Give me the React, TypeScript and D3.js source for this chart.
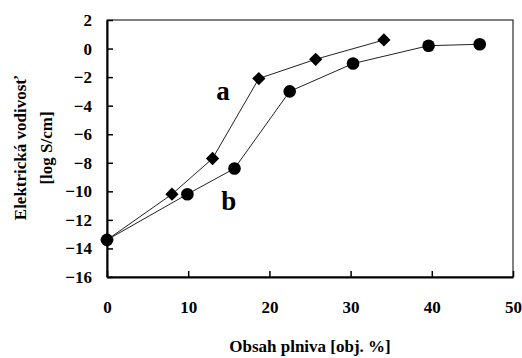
import React, { useRef, useEffect } from 'react';
import * as d3 from 'd3';

const seriesAx = [0, 8, 13, 18.7, 25.7, 34.1];
const seriesAy = [-13.4, -10.2, -7.7, -2.1, -0.75, 0.6];
const seriesBx = [0, 9.9, 15.7, 22.5, 30.3, 39.6, 45.9];
const seriesBy = [-13.4, -10.2, -8.4, -3.0, -1.05, 0.2, 0.3];
const xTicks = [0, 10, 20, 30, 40, 50];
const yTicks = [2, 0, -2, -4, -6, -8, -10, -12, -14, -16];

const App: React.FC = () => {
  const ref = useRef<SVGSVGElement | null>(null);

  useEffect(() => {
    if (!ref.current) return;
    const svg = d3.select(ref.current);
    svg.selectAll('*').remove();

    const width = 522;
    const height = 358;
    const margin = { top: 20, right: 9, bottom: 81, left: 107 };
    const font = "'Liberation Serif', 'Times New Roman', 'DejaVu Serif', serif";

    const x = d3.scaleLinear().domain([0, 50]).range([margin.left, width - margin.right]);
    const y = d3.scaleLinear().domain([-16, 2]).range([height - margin.bottom, margin.top]);

    // frame, thin on top and right
    svg.append('rect')
      .attr('x', x(0)).attr('y', y(2))
      .attr('width', x(50) - x(0)).attr('height', y(-16) - y(2))
      .attr('fill', 'none').attr('stroke', '#000').attr('stroke-width', 1);

    const xAxis = svg.append('g')
      .attr('transform', `translate(0,${y(-16)})`)
      .call(d3.axisBottom(x).tickValues(xTicks).tickSizeInner(-6).tickSizeOuter(0).tickPadding(24));
    const yAxis = svg.append('g')
      .attr('transform', `translate(${x(0)},0)`)
      .call(d3.axisLeft(y).tickValues(yTicks).tickSizeInner(-6).tickSizeOuter(0).tickPadding(15));

    [xAxis, yAxis].forEach(g => {
      g.attr('font-family', null).attr('font-size', null);
      g.select('.domain').attr('stroke', '#000').attr('stroke-width', 2);
      g.selectAll('.tick line').attr('stroke', '#000').attr('stroke-width', 1.5);
      g.selectAll('.tick text')
        .style('font-family', font).style('font-size', '17px').style('font-weight', 'bold').attr('fill', '#000');
    });

    const line = d3.line<[number, number]>().x(d => x(d[0])).y(d => y(d[1]));
    const ptsA: [number, number][] = seriesAx.map((v, i) => [v, seriesAy[i]]);
    const ptsB: [number, number][] = seriesBx.map((v, i) => [v, seriesBy[i]]);

    svg.append('path').attr('d', line(ptsA)).attr('fill', 'none').attr('stroke', '#222').attr('stroke-width', 1);
    svg.append('path').attr('d', line(ptsB)).attr('fill', 'none').attr('stroke', '#222').attr('stroke-width', 1);

    svg.selectAll('.dia').data(ptsA).enter().append('path')
      .attr('class', 'dia')
      .attr('d', d3.symbol(d3.symbolSquare, 88)())
      .attr('transform', d => `translate(${x(d[0])},${y(d[1])}) rotate(45)`)
      .attr('fill', '#000');

    svg.selectAll('.dot').data(ptsB).enter().append('circle')
      .attr('class', 'dot')
      .attr('cx', d => x(d[0])).attr('cy', d => y(d[1])).attr('r', 6.3)
      .attr('fill', '#000');

    const label = (t: string, xv: number, yp: number) =>
      svg.append('text').attr('x', x(xv)).attr('y', yp)
        .attr('text-anchor', 'middle')
        .style('font-family', font).style('font-size', '27px').style('font-weight', 'bold')
        .text(t);
    label('a', 14.3, 100);
    label('b', 15, 210);

    svg.append('text').attr('x', (x(0) + x(50)) / 2).attr('y', 352)
      .attr('text-anchor', 'middle')
      .style('font-family', font).style('font-size', '17px').style('font-weight', 'bold')
      .text('Obsah plniva [obj. %]');

    const yt = svg.append('text').attr('transform', 'translate(0,148) rotate(-90)')
      .attr('text-anchor', 'middle')
      .style('font-family', font).style('font-size', '17px').style('font-weight', 'bold');
    yt.append('tspan').attr('x', 0).attr('y', 26).text('Elektrická vodivosť');
    yt.append('tspan').attr('x', 0).attr('y', 52).text('[log S/cm]');
  }, []);

  return (
    <svg ref={ref} width={522} height={358}
      style={{ position: 'absolute', left: 0, top: 0, background: '#fff' }} />
  );
};

export default App;
